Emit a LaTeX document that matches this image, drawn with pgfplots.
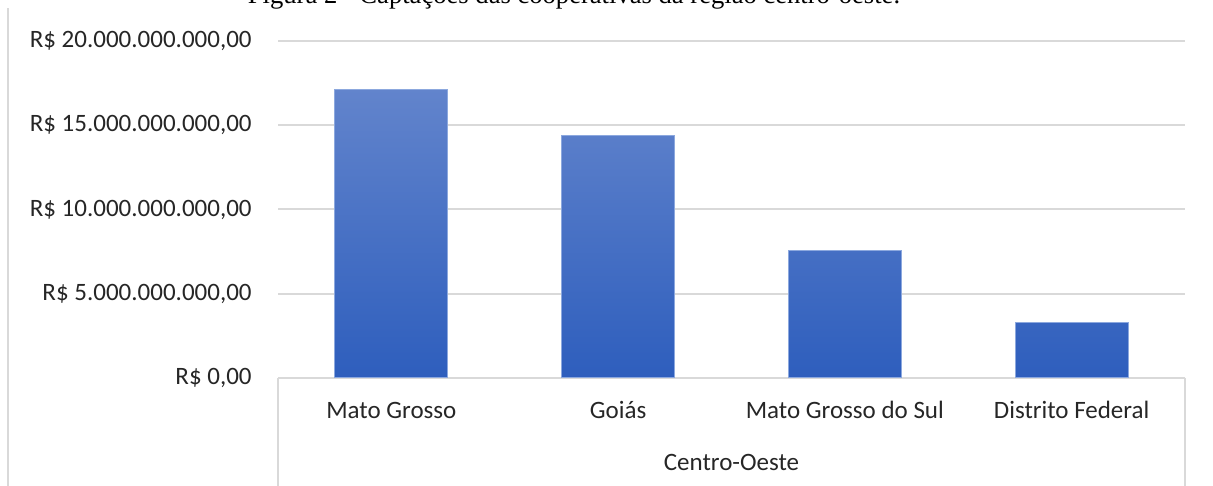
\documentclass[border=0pt]{standalone}
\usepackage{pgfplots}
\pgfplotsset{compat=1.18}
\usepackage{fontspec}
\setmainfont{Carlito}
\newfontfamily\titlefont{Liberation Serif}
\definecolor{gridgray}{RGB}{217,217,217}
\definecolor{bartop}{RGB}{98,132,204}
\definecolor{barbot}{RGB}{46,94,189}
\definecolor{baredge}{RGB}{140,168,222}
\definecolor{txt}{RGB}{38,38,38}
\begin{document}
\begin{tikzpicture}[x=1pt,y=1pt]
\useasboundingbox (0,0) rectangle (606.5,243);
\begin{scope}
\clip (0,0) rectangle (606.5,243);
\node[font=\titlefont\fontsize{13.3}{15}\selectfont, anchor=base, inner sep=0pt] at (287,241) {Figura 2 - Captações das cooperativas da região centro-oeste.};
\draw[gridgray, line width=1pt] (4,0) -- (4,239);
\end{scope}
\begin{axis}[
  at={(139pt,54pt)}, anchor=south west,
  scale only axis,
  width=453.5pt, height=168.5pt,
  xmin=-0.5, xmax=3.5,
  ymin=0, ymax=20000000000,
  scaled y ticks=false,
  xtick={0,1,2,3},
  xticklabels={Mato Grosso, Goiás, Mato Grosso do Sul, Distrito Federal},
  ytick={0,5000000000,10000000000,15000000000,20000000000},
  yticklabels={{R\$ 0,00},{R\$ 5.000.000.000,00},{R\$ 10.000.000.000,00},{R\$ 15.000.000.000,00},{R\$ 20.000.000.000,00}},
  major tick length=0pt,
  axis line style={draw=none},
  ymajorgrids,
  grid style={gridgray, line width=1pt},
  tick label style={font=\fontsize{12.5}{14}\selectfont, text=txt},
  yticklabel style={anchor=east, inner sep=0pt, xshift=-13pt},
  xticklabel style={anchor=center, inner sep=0pt, yshift=-16pt},
  clip=false,
]
\addplot[ybar, bar width=56.5pt, top color=bartop, bottom color=barbot, draw=baredge, line width=0.5pt]
  coordinates {(0,17150000000) (1,14420000000) (2,7540000000) (3,3320000000)};
\draw[gridgray, line width=1pt] (rel axis cs:0,0) -- ([yshift=-54pt]rel axis cs:0,0);
\draw[gridgray, line width=1pt] (rel axis cs:1,0) -- ([yshift=-54pt]rel axis cs:1,0);
\node[font=\fontsize{12.5}{14}\selectfont, text=txt, inner sep=0pt] at ([yshift=-42pt]rel axis cs:0.5,0) {Centro-Oeste};
\end{axis}
\end{tikzpicture}
\end{document}
